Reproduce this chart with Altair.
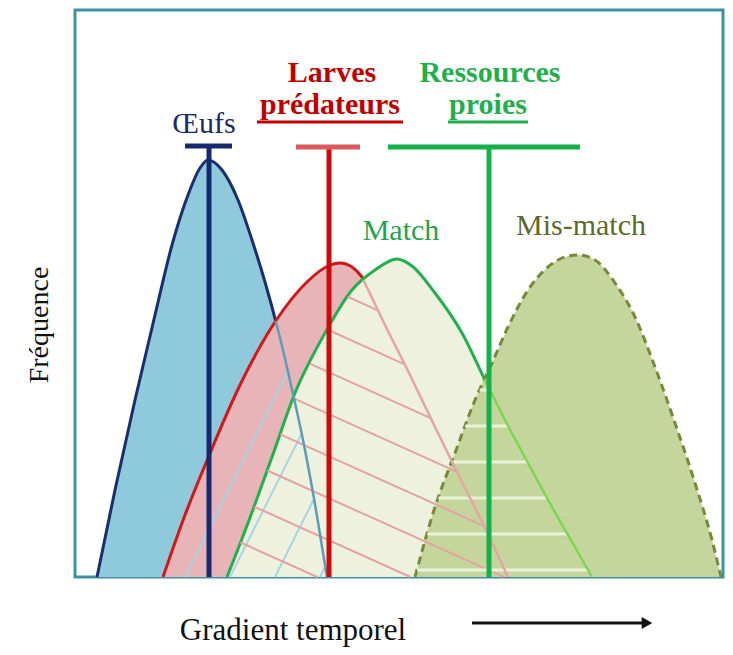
import altair as alt
import numpy as np
import pandas as pd

# ---- Courbes (unités arbitraires : gradient temporel, fréquence) ----
OEUFS_X = [22, 40, 60, 80, 97, 113, 125, 133, 147, 163, 177, 190, 203, 216, 229, 241, 252]
OEUFS_Y = [0, 87, 177, 262, 332, 382, 409, 417, 407, 377, 337, 295, 247, 192, 132, 67, 0]
LARVES_X = [88, 110, 133, 165, 200, 233, 253, 265, 277, 287, 310, 335, 360, 385, 410, 433]
LARVES_Y = [0, 62, 119, 192, 255, 296, 311, 314, 310, 300, 252, 202, 150, 99, 49, 0]
MATCH_X = [152, 173, 197, 220, 250, 277, 300, 322, 337, 360, 387, 410, 430, 453, 477, 500, 517]
MATCH_Y = [0, 54, 120, 184, 244, 287, 307, 318, 311, 284, 244, 197, 157, 114, 70, 30, 0]
MISMATCH_X = [340, 360, 380, 400, 417, 433, 453, 473, 490, 503, 520, 540, 560, 580, 600, 620, 637, 646]
MISMATCH_Y = [0, 70, 124, 177, 214, 250, 287, 310, 320, 322, 317, 294, 260, 210, 154, 94, 37, 0]

# ---- Dates moyennes (barres verticales en T) ----
T_NAMES = ["Œufs", "Larves", "Ressources"]
T_X = [134, 254, 414]
T_TOP = [431, 430, 430]
T_LEFT = [110, 221, 313]
T_RIGHT = [157, 285, 505]

# ---- Étiquettes ----
LABELS = ["Œufs", "Larves", "prédateurs", "Ressources", "proies", "Match", "Mis-match"]
LABEL_X = [129, 257, 255, 415, 413, 326, 506]
LABEL_Y = [444, 495, 463, 495, 463, 337, 342]
LABEL_BOLD = [False, True, True, True, True, False, False]
LABEL_COLOR = ["#1c2a6b", "#c00000", "#c00000", "#1fb04c", "#1fb04c", "#22a44c", "#5c6b2b"]
UNDERLINE_X = [182, 373]
UNDERLINE_X2 = [328, 453]
UNDERLINE_Y = [455, 455]
UNDERLINE_COLOR = ["#c00000", "#1fb04c"]

XMAX, YMAX = 648, 567
XS = alt.Scale(domain=[0, XMAX], nice=False, zero=False)
YS = alt.Scale(domain=[0, YMAX], nice=False, zero=False)


def ex(f="x"):
    return alt.X(f"{f}:Q", scale=XS, axis=None)


def ey(f="y"):
    return alt.Y(f"{f}:Q", scale=YS, axis=None)


def curve(xs, ys):
    return pd.DataFrame({"x": xs, "y": ys})


def top(xs, ys, x):
    return np.interp(x, xs, ys, left=0, right=0)


GRID = np.linspace(0, XMAX, 6481)


def hatch(slope, offsets, region):
    lim = region(GRID)
    rows = []
    for c in offsets:
        yy = c + slope * GRID
        inside = np.where((yy >= 0) & (yy < lim))[0]
        if len(inside) < 2:
            continue
        runs = np.split(inside, np.where(np.diff(inside) > 1)[0] + 1)
        for r in runs:
            if len(r) < 2:
                continue
            rows.append({"x": GRID[r[0]], "y": yy[r[0]], "x2": GRID[r[-1]], "y2": yy[r[-1]]})
    return pd.DataFrame(rows)


def crossing(xa, ya, xb, yb, lo, hi):
    xs = np.linspace(lo, hi, 4001)
    d = top(xa, ya, xs) - top(xb, yb, xs)
    i = np.where(np.sign(d[:-1]) != np.sign(d[1:]))[0][0]
    return xs[i], top(xa, ya, xs[i])


def tail(xs, ys, xc, yc):
    px = [xc] + [a for a in xs if a > xc]
    py = [yc] + [b for a, b in zip(xs, ys) if a > xc]
    return curve(px, py)


def area(xs, ys, fill):
    return alt.Chart(curve(xs, ys)).mark_area(interpolate="monotone", color=fill, opacity=1).encode(
        x=ex(), y=ey(), y2=alt.datum(0))


def line(df, color, width=3, dash=None):
    kw = dict(interpolate="monotone", color=color, strokeWidth=width)
    if dash:
        kw["strokeDash"] = dash
    return alt.Chart(df).mark_line(**kw).encode(x=ex(), y=ey())


def rules(df, color, width):
    return alt.Chart(df).mark_rule(color=color, strokeWidth=width).encode(
        x=ex(), y=ey(), x2="x2:Q", y2="y2:Q")


# hatch regions
blue_region = lambda x: np.minimum(top(OEUFS_X, OEUFS_Y, x),
                                   np.maximum(top(LARVES_X, LARVES_Y, x), top(MATCH_X, MATCH_Y, x)))
pink_region = lambda x: np.minimum(top(LARVES_X, LARVES_Y, x), top(MATCH_X, MATCH_Y, x))
white_region = lambda x: np.minimum(top(MATCH_X, MATCH_Y, x), top(MISMATCH_X, MISMATCH_Y, x))

blue_hatch = hatch(2.0, [-2.0 * (110 + 45 * k) for k in range(-4, 6)], blue_region)
pink_hatch = hatch(-0.45, [361 + 42 * k for k in range(-8, 6)], pink_region)
white_hatch = hatch(0.0, [7 + 36 * k for k in range(0, 6)], white_region)

bx, by = crossing(OEUFS_X, OEUFS_Y, LARVES_X, LARVES_Y, 134, 252)
rx, ry = crossing(LARVES_X, LARVES_Y, MATCH_X, MATCH_Y, 266, 433)
gx, gy = crossing(MATCH_X, MATCH_Y, MISMATCH_X, MISMATCH_Y, 323, 517)

layers = [
    area(OEUFS_X, OEUFS_Y, "#8fcadc"),
    line(curve(OEUFS_X, OEUFS_Y), "#1b2d6c"),
    area(LARVES_X, LARVES_Y, "#e8b4b7"),
    line(curve(LARVES_X, LARVES_Y), "#d01818"),
    area(MATCH_X, MATCH_Y, "#edf1de"),
    line(curve(MATCH_X, MATCH_Y), "#22b04e"),
    area(MISMATCH_X, MISMATCH_Y, "#c4d69b"),
    line(curve(MISMATCH_X, MISMATCH_Y), "#768a3a", 3, [8, 5]),
    rules(blue_hatch, "#aad4e3", 2),
    rules(pink_hatch, "#e3a3a3", 2),
    rules(white_hatch, "#eaf1da", 3),
    line(tail(OEUFS_X, OEUFS_Y, bx, by), "#5a9db6", 2.5),
    line(tail(LARVES_X, LARVES_Y, rx, ry), "#e6a4a6", 2.5),
    line(tail(MATCH_X, MATCH_Y, gx, gy), "#7cd650", 2.5),
]

tdf = pd.DataFrame({"name": T_NAMES, "x": T_X, "top": T_TOP, "left": T_LEFT, "right": T_RIGHT,
                    "color": ["#152a6e", "#cc0a0a", "#14b14a"],
                    "capcolor": ["#152a6e", "#d85a5a", "#14b14a"]})
layers.append(alt.Chart(tdf).mark_rule(strokeWidth=5).encode(
    x=ex(), y=alt.Y("top:Q", scale=YS, axis=None), y2=alt.datum(0),
    color=alt.Color("color:N", scale=None)))
layers.append(alt.Chart(tdf).mark_rule(strokeWidth=5).encode(
    x=ex("left"), x2="right:Q", y=alt.Y("top:Q", scale=YS, axis=None),
    color=alt.Color("capcolor:N", scale=None)))

ldf = pd.DataFrame({"text": LABELS, "x": LABEL_X, "y": LABEL_Y, "bold": LABEL_BOLD, "color": LABEL_COLOR})
for bold in (False, True):
    layers.append(alt.Chart(ldf[ldf["bold"] == bold]).mark_text(
        font="Liberation Serif", fontSize=30, fontWeight="bold" if bold else "normal",
        align="center", baseline="alphabetic").encode(
        x=ex(), y=ey(), text="text:N", color=alt.Color("color:N", scale=None)))

udf = pd.DataFrame({"x": UNDERLINE_X, "x2": UNDERLINE_X2, "y": UNDERLINE_Y, "color": UNDERLINE_COLOR})
layers.append(alt.Chart(udf).mark_rule(strokeWidth=3).encode(
    x=ex(), x2="x2:Q", y=ey(), color=alt.Color("color:N", scale=None)))

# titres d'axes
adf = pd.DataFrame({"text": ["Gradient temporel"], "x": [218], "y": [-63]})
layers.append(alt.Chart(adf).mark_text(font="Liberation Serif", fontSize=31, color="#111111",
                                       align="center", baseline="alphabetic").encode(
    x=ex(), y=ey(), text="text:N"))
fdf = pd.DataFrame({"text": ["Fréquence"], "x": [-35], "y": [252]})
layers.append(alt.Chart(fdf).mark_text(font="Liberation Serif", fontSize=28, color="#111111",
                                       align="center", baseline="middle", angle=270).encode(
    x=ex(), y=ey(), text="text:N"))

# flèche
arr = pd.DataFrame({"x": [397], "x2": [572], "y": [-46]})
layers.append(alt.Chart(arr).mark_rule(color="#111111", strokeWidth=3).encode(x=ex(), x2="x2:Q", y=ey()))
layers.append(alt.Chart(arr).mark_point(shape="triangle-right", filled=True, size=150, color="#111111",
                                        opacity=1).encode(x=ex("x2"), y=ey()))

chart = alt.layer(*layers).properties(
    width=XMAX, height=YMAX,
    autosize=alt.AutoSizeParams(type="none"),
    padding={"left": 67, "top": 2, "right": 2, "bottom": 70},
).configure_view(stroke="#3d90a6", strokeWidth=3)

chart.save("out.html", embed_options={"renderer": "svg", "actions": False})
